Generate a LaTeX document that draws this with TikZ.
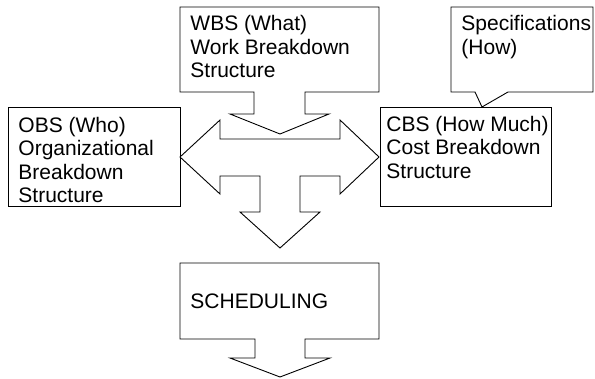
\documentclass[tikz,border=0pt]{standalone}
\usepackage{fontspec}
\setmainfont{Liberation Sans}
\usepackage{tikz}

\begin{document}
\begin{tikzpicture}[x=1pt,y=-1pt,line width=.9pt,
  lbl/.style={anchor=base west,inner sep=0pt,align=left,font=\fontsize{21}{23.3}\selectfont}]
\useasboundingbox (0,0) rectangle (595,379);
% boxes with their block arrows
\draw (180,7) -- (379,7) -- (379,92) -- (305,92) -- (305,114) -- (329,114)
  -- (280,134) -- (230,114) -- (254,114) -- (254,92) -- (180,92) -- cycle;
\draw (451,7) -- (593,7) -- (593,92) -- (508,92) -- (482,107) -- (475,92)
  -- (451,92) -- cycle;
\draw (8,107) rectangle (180,206);
\draw (380,107) rectangle (551,206);
\draw (180,157) -- (220,120) -- (220,139) -- (340,139) -- (340,120) -- (379,157)
  -- (340,194) -- (340,176) -- (300,176) -- (300,212) -- (320,212) -- (280,248)
  -- (240,212) -- (260,212) -- (260,176) -- (220,176) -- (220,194) -- cycle;
\draw (180,263) -- (379,263) -- (379,339) -- (305,339) -- (305,358) -- (330,358)
  -- (280,377) -- (230,358) -- (255,358) -- (255,339) -- (180,339) -- cycle;
% labels (anchored on the baseline of their last line)
\node[lbl] (wbs) at (190,77.6) {WBS (What)\\Work Breakdown\\Structure};
\node[lbl] (spec) at (461,54.3) {Specifications\\(How)};
\node[lbl] (obs) at (18,202.6) {OBS (Who)\\Organizational\\Breakdown\\Structure};
\node[lbl] (cbs) at (386,178.3) {CBS (How Much)\\Cost Breakdown\\Structure};
\node[lbl] (sched) at (190,309) {SCHEDULING};
\end{tikzpicture}
\end{document}
